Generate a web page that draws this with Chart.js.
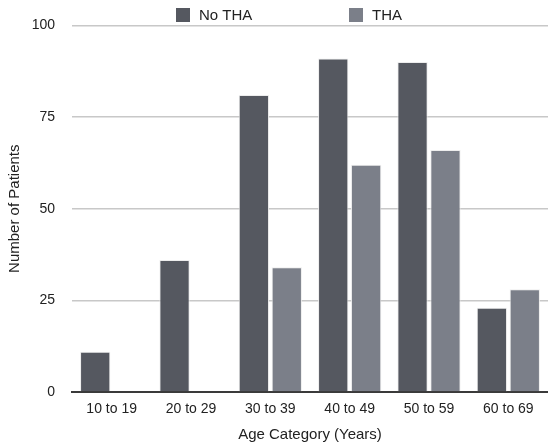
<!DOCTYPE html>
<html>
<head>
<meta charset="utf-8">
<script src="https://cdn.jsdelivr.net/npm/chart.js@4/dist/chart.umd.min.js"></script>
<style>
    html, body { margin: 0; padding: 0; background: #fff; }
    #wrap { width: 548px; height: 448px; }
</style>
</head>
<body>
<div id="wrap"><canvas id="ageChart" width="548" height="448"></canvas></div>
<script>
// --- Data ---
const ageCategories = ['10 to 19', '20 to 29', '30 to 39', '40 to 49', '50 to 59', '60 to 69'];
const noThaValues = [11, 36, 81, 91, 90, 23];
const thaValues = [0, 0, 34, 62, 66, 28];
const yTicks = [0, 25, 50, 75, 100];

const FONT = '"Liberation Sans", Arial, Helvetica, sans-serif';
const darkBar = '#555860';
const lightBar = '#7b7f89';

// simple legend drawn above the plot, two items spread out like the original
const topLegend = {
    id: 'topLegend',
    afterDraw(chart) {
        const ctx = chart.ctx;
        const spots = [176, 349];
        ctx.save();
        ctx.font = '15px ' + FONT;
        ctx.textBaseline = 'middle';
        chart.data.datasets.forEach((ds, i) => {
            const x = spots[i];
            ctx.fillStyle = ds.backgroundColor;
            ctx.fillRect(x, 8, 14, 14);
            ctx.fillStyle = '#222';
            ctx.fillText(ds.label, x + 23, 16);
        });
        ctx.restore();
    }
};

const ctx = document.getElementById('ageChart').getContext('2d');
new Chart(ctx, {
    type: 'bar',
    data: {
        labels: ageCategories,
        datasets: [
            {
                label: 'No THA',
                data: noThaValues,
                backgroundColor: darkBar,
                borderColor: 'rgba(235,235,235,0.9)',
                borderWidth: 1,
                categoryPercentage: 0.83,
                barPercentage: 0.92
            },
            {
                label: 'THA',
                data: thaValues,
                backgroundColor: lightBar,
                borderColor: 'rgba(235,235,235,0.9)',
                borderWidth: 1,
                categoryPercentage: 0.83,
                barPercentage: 0.92
            }
        ]
    },
    options: {
        responsive: false,
        animation: false,
        layout: { padding: { top: 16, right: 0, left: 0, bottom: 0 } },
        plugins: {
            legend: { display: false },
            tooltip: { enabled: false }
        },
        scales: {
            x: {
                grid: { display: false, drawTicks: false },
                border: { display: true, color: '#3a3a3a', width: 2 },
                ticks: { color: '#222', font: { family: FONT, size: 14 }, padding: 9 },
                title: {
                    display: true,
                    text: 'Age Category (Years)',
                    color: '#222',
                    font: { family: FONT, size: 15 },
                    padding: { top: 4, bottom: 4 }
                },
                afterFit(scale) { scale.height = 56; }
            },
            y: {
                min: 0,
                max: 100,
                afterBuildTicks(scale) { scale.ticks = yTicks.map(v => ({ value: v })); },
                grid: { color: '#c8c8c8', lineWidth: 1.5, drawTicks: false },
                border: { display: false },
                ticks: { color: '#222', font: { family: FONT, size: 14 }, padding: 17 },
                title: {
                    display: true,
                    text: 'Number of Patients',
                    color: '#222',
                    font: { family: FONT, size: 15 },
                    padding: { top: 6, bottom: 0 }
                },
                afterFit(scale) { scale.width = 72; }
            }
        }
    },
    plugins: [topLegend]
});
</script>
</body>
</html>
